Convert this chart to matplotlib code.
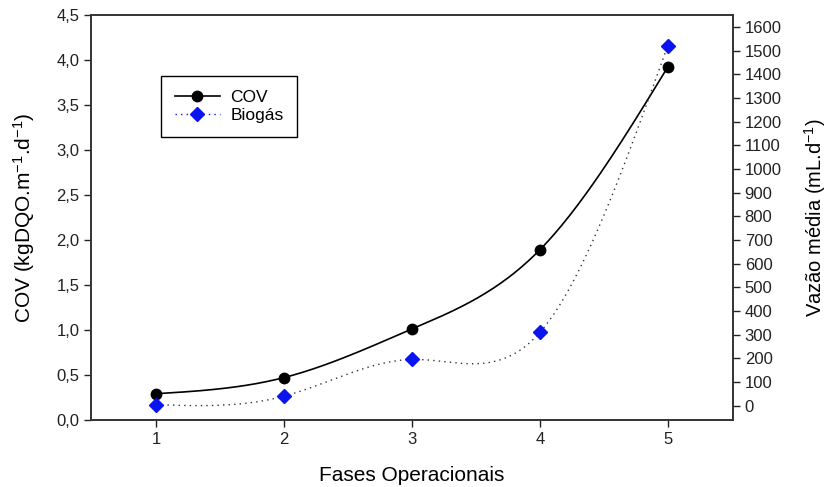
import matplotlib.pyplot as plt
import numpy as np

plt.rcParams["font.family"] = ["Liberation Sans", "DejaVu Sans"]

fases = [1, 2, 3, 4, 5]
cov = [0.29, 0.47, 1.01, 1.89, 3.92]
biogas = [5, 41, 196, 310, 1521]

cov_ticks = [0.0, 0.5, 1.0, 1.5, 2.0, 2.5, 3.0, 3.5, 4.0, 4.5]
cov_tick_labels = ["0,0", "0,5", "1,0", "1,5", "2,0", "2,5", "3,0", "3,5", "4,0", "4,5"]
vazao_ticks = list(range(0, 1700, 100))


def smooth(x, y, n=200):
    # natural cubic spline, only used to draw the smooth line between markers
    x = np.asarray(x, float)
    y = np.asarray(y, float)
    k = len(x)
    h = np.diff(x)
    A = np.zeros((k, k))
    b = np.zeros(k)
    A[0, 0] = A[-1, -1] = 1
    for i in range(1, k - 1):
        A[i, i - 1] = h[i - 1]
        A[i, i] = 2 * (h[i - 1] + h[i])
        A[i, i + 1] = h[i]
        b[i] = 6 * ((y[i + 1] - y[i]) / h[i] - (y[i] - y[i - 1]) / h[i - 1])
    m = np.linalg.solve(A, b)
    xs = np.linspace(x[0], x[-1], n)
    idx = np.clip(np.searchsorted(x, xs) - 1, 0, k - 2)
    t0 = x[idx]
    t1 = x[idx + 1]
    hh = t1 - t0
    ys = (m[idx] * (t1 - xs) ** 3 / (6 * hh) + m[idx + 1] * (xs - t0) ** 3 / (6 * hh)
          + (y[idx] / hh - m[idx] * hh / 6) * (t1 - xs)
          + (y[idx + 1] / hh - m[idx + 1] * hh / 6) * (xs - t0))
    return xs, ys


fig = plt.figure(figsize=(8.29, 4.87), dpi=100)
ax = fig.add_axes([0.110, 0.138, 0.774, 0.831])
ax2 = ax.twinx()

xs, ys = smooth(fases, cov)
ax.plot(xs, ys, color="black", linewidth=1.2)
ax.plot(fases, cov, "o", color="black", markersize=7.5)

xs, ys = smooth(fases, biogas)
ax2.plot(xs, ys, color="#333333", linewidth=1.0, linestyle=(0, (1, 3)))
ax2.plot(fases, biogas, "D", color="#0a14f0", markersize=7)

ax.set_xlim(0.49, 5.51)
ax.set_ylim(0, 4.5)
ax2.set_ylim(-59, 1651)

ax.set_xticks(fases)
ax.set_yticks(cov_ticks)
ax.set_yticklabels(cov_tick_labels)
ax2.set_yticks(vazao_ticks)

for a in (ax, ax2):
    a.tick_params(labelsize=12, direction="out", length=5, width=1, colors="#222222")
    for s in a.spines.values():
        s.set_linewidth(1.2)
        s.set_color("#333333")

ax.set_xlabel("Fases Operacionais", fontsize=15, labelpad=14)
ax.set_ylabel(r"COV (kgDQO.m$\mathregular{^{-1}}$.d$\mathregular{^{-1}}$)", fontsize=15)
ax2.set_ylabel(r"Vazão média (mL.d$\mathregular{^{-1}}$)", fontsize=14.5)
ax.yaxis.set_label_coords(-0.085, 0.5)
ax2.yaxis.set_label_coords(1.108, 0.5)

h1 = ax.plot([], [], "-o", color="black", markersize=7.5, linewidth=1.2)[0]
h2 = ax.plot([], [], "D", color="#0a14f0", markersize=7, linestyle=(0, (1, 3)))[0]
h2.set_linewidth(1.0)
leg = ax.legend([h1, h2], ["COV", "Biogás"], loc="upper left",
                bbox_to_anchor=(0.095, 0.87), fontsize=12.5, fancybox=False,
                edgecolor="black", framealpha=1, handlelength=2.6,
                borderpad=0.8, labelspacing=0.15, handletextpad=0.6)
leg.get_frame().set_linewidth(1.0)

fig.savefig("out.png", dpi=100)
